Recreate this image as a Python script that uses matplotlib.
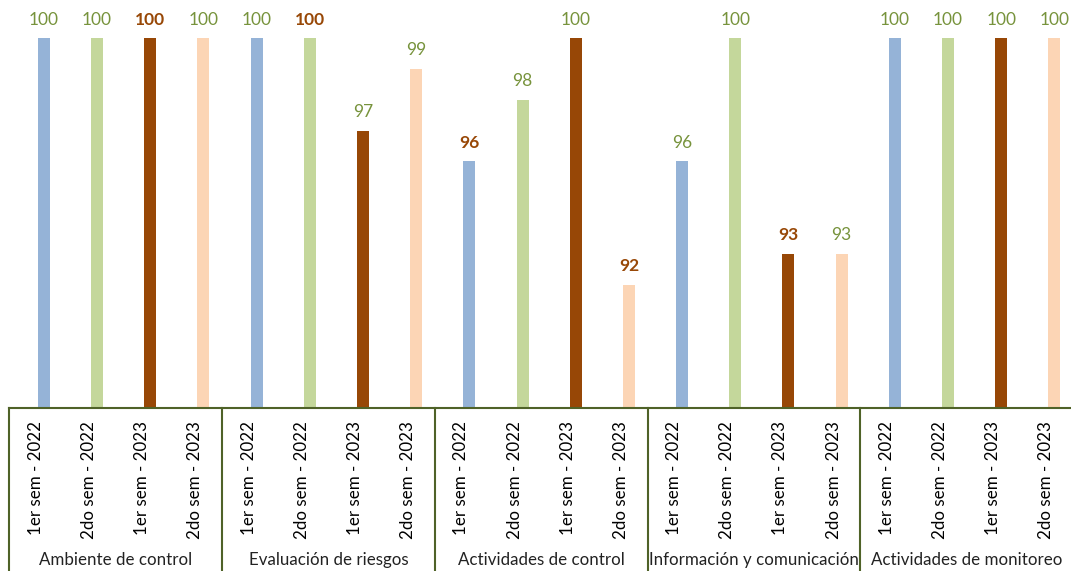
import numpy as np
import matplotlib
matplotlib.use('Agg')
import matplotlib.pyplot as plt
from matplotlib.lines import Line2D

# data
groups = ['Ambiente de control', 'Evaluación de riesgos', 'Actividades de control',
          'Información y comunicación', 'Actividades de monitoreo']
periods = ['1er sem - 2022', '2do sem - 2022', '1er sem - 2023', '2do sem - 2023']
ambiente = [100, 100, 100, 100]
evaluacion = [100, 100, 97, 99]
actividades = [96, 98, 100, 92]
informacion = [96, 100, 93, 93]
monitoreo = [100, 100, 100, 100]
# which labels are shown bold/brown
highlight = [[0, 0, 1, 0], [0, 1, 0, 0], [1, 0, 0, 1], [0, 0, 1, 0], [0, 0, 0, 0]]

bar_colors = ['#95B3D7', '#C4D79B', '#974706', '#FCD5B5']
green_txt = '#77933C'
brown_txt = '#984807'
line_col = '#4F6228'

plt.rcParams['font.family'] = ['Lato', 'DejaVu Sans']

values = [ambiente, evaluacion, actividades, informacion, monitoreo]
W, H = 1071, 571
fig = plt.figure(figsize=(W / 100, H / 100), dpi=100)
ax = fig.add_axes([9.3 / W, (H - 408) / H, (1073 - 9.3) / W, 408 / H])

n = len(groups) * len(periods)
ax.set_xlim(-0.5, n - 0.5)
ax.set_ylim(88, 100 + 38 / 30.83)

for g, vals in enumerate(values):
    for p, v in enumerate(vals):
        x = g * 4 + p + 0.15
        ax.bar(x, v - 88, bottom=88, width=0.225, color=bar_colors[p])
        if highlight[g][p]:
            ax.annotate(str(v), (x, v), xytext=(0, 7.5), textcoords='offset points',
                        ha='center', va='bottom', fontsize=12.5, color=brown_txt,
                        fontweight='bold')
        else:
            ax.annotate(str(v), (x, v), xytext=(0, 7.5), textcoords='offset points',
                        ha='center', va='bottom', fontsize=12.5, color=green_txt)

for s in ax.spines.values():
    s.set_visible(False)
ax.set_yticks([])
ax.set_xticks([])

ax.axhline(88, color=line_col, lw=1.5, clip_on=False)
depth = (571 - 408) / 408
for g in range(len(groups) + 1):
    xb = g * 4 - 0.5
    ax.add_line(Line2D([xb, xb], [0, -depth], transform=ax.get_xaxis_transform(),
                       color=line_col, lw=1.5, clip_on=False))
for g, name in enumerate(groups):
    for p, per in enumerate(periods):
        ax.text(g * 4 + p, -13 / 408, per, transform=ax.get_xaxis_transform(),
                rotation=90, ha='center', va='top', fontsize=12.2, color='black')
    ax.text(g * 4 + 1.5, -(560 - 408) / 408, name, transform=ax.get_xaxis_transform(),
            ha='center', va='center', fontsize=12.2, color='#222222')

fig.savefig('out.png', dpi=100)
